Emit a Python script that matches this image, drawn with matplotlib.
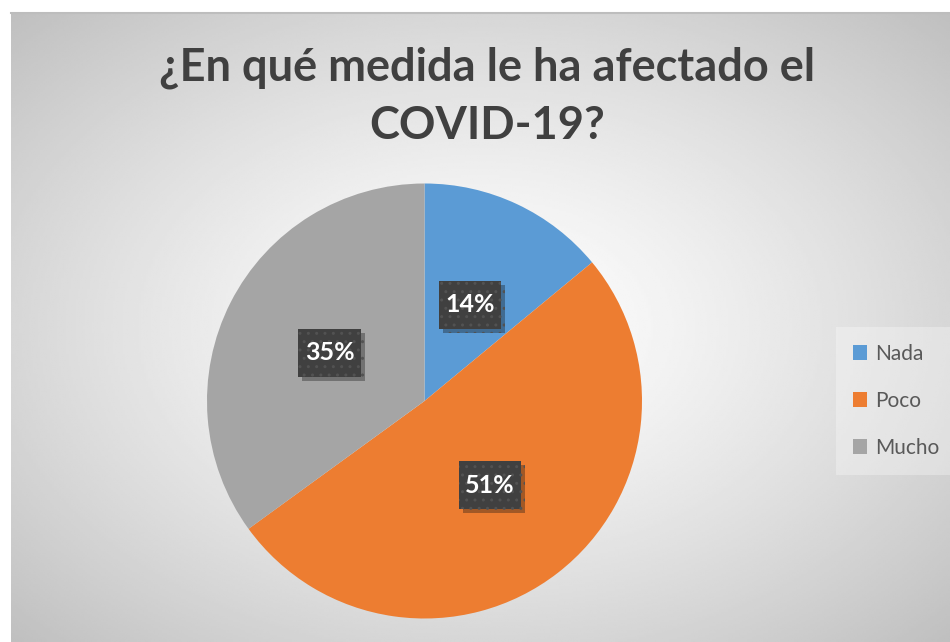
import numpy as np
import matplotlib
matplotlib.use("Agg")
import matplotlib.pyplot as plt
import matplotlib.patheffects as pe
from matplotlib.path import Path

title = "¿En qué medida le ha afectado el\nCOVID-19?"
categories = ["Nada", "Poco", "Mucho"]
values = [14, 51, 35]
colors = ["#5B9BD5", "#ED7D31", "#A5A5A5"]

W, H = 950, 642
fig = plt.figure(figsize=(W / 100, H / 100), dpi=100)
fig.patch.set_facecolor("white")

# Chart area background with radial gradient
left, top = 11, 13
bg = fig.add_axes([left / W, 0, 1 - left / W, (H - top) / H])
bg.set_axis_off()
nx, ny = 400, 300
xx, yy = np.meshgrid(np.linspace(-1, 1, nx), np.linspace(-1, 1, ny))
r = np.sqrt(xx ** 2 + yy ** 2) / np.sqrt(2)
val = 1 - 0.25 * np.clip(r, 0, 1) ** 1.3
bg.imshow(val, cmap="gray", vmin=0, vmax=1, extent=[0, 1, 0, 1], aspect="auto", interpolation="bilinear")
bg.set_xlim(0, 1)
bg.set_ylim(0, 1)
bg.plot([0, 1], [1, 1], color="#BDBDBD", lw=1.5, transform=bg.transAxes, clip_on=False)


def label_box(x0, y0, width, height, mutation_size):
    px = 0.26 * mutation_size
    py = 0.5 * mutation_size
    x0, y0 = x0 - px, y0 - py
    x1, y1 = x0 + width + 2 * px, y0 + height + 2 * py
    return Path([(x0, y0), (x1, y0), (x1, y1), (x0, y1), (x0, y0)], closed=True)


# Pie axes
cx, cy, R = 424.5, 401, 217.5
ax = fig.add_axes([(cx - R) / W, (H - cy - R) / H, 2 * R / W, 2 * R / H])
ax.set_axis_off()
wedges, texts = ax.pie(values, colors=colors, startangle=90, counterclock=False,
                       radius=1, labels=[f"{v}%" for v in values], labeldistance=0.49,
                       wedgeprops=dict(linewidth=0),
                       textprops=dict(color="white", fontsize=18, fontweight="bold",
                                      family="Lato", ha="center", va="center"))
ax.set_xlim(-1, 1)
ax.set_ylim(-1, 1)
for t in texts:
    t.set_bbox(dict(boxstyle=label_box, facecolor="#404040", edgecolor="#525252",
                    linewidth=0, hatch=".."))
    t.get_bbox_patch().set_path_effects([pe.SimplePatchShadow(offset=(3, -3), alpha=0.35), pe.Normal()])

# Title
fig.text(487 / W, 1 - 97 / H, title, ha="center", va="center", fontsize=32.5, fontweight="bold",
         color="#404040", family="Lato", linespacing=1.48)

# Legend
leg = fig.legend(wedges, categories, loc="center left", bbox_to_anchor=(836 / W, 1 - 401 / H),
                 frameon=True, fontsize=15, labelspacing=1.3, handlelength=0.7, handleheight=0.7,
                 handletextpad=0.4, borderpad=0.8, borderaxespad=0, fancybox=False)
leg.get_frame().set_facecolor("white")
leg.get_frame().set_alpha(0.3)
leg.get_frame().set_edgecolor("none")
for t in leg.get_texts():
    t.set_color("#595959")
    t.set_family("Lato")

fig.savefig("out.png", dpi=100)
